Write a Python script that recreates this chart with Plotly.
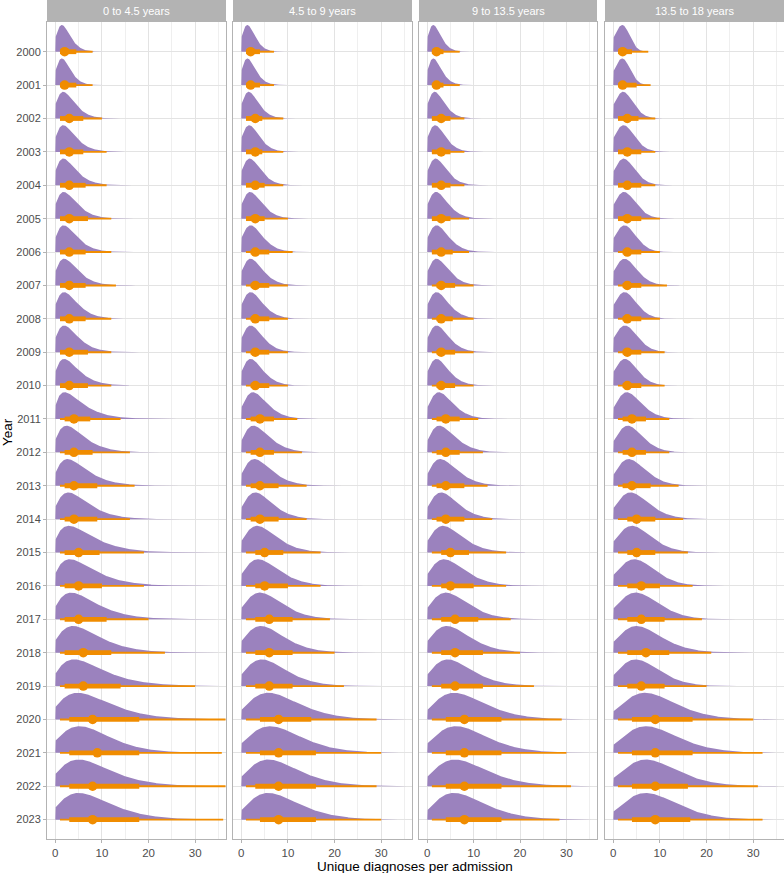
import numpy as np
import plotly.graph_objects as go

years = list(range(2000, 2024))
panels = ["0 to 4.5 years", "4.5 to 9 years", "9 to 13.5 years", "13.5 to 18 years"]

# ---- interval summaries (per panel, per year) ----
p1_median = [2, 2, 3, 3, 3, 3, 3, 3, 3, 3, 3, 4, 4, 4, 4, 5, 5, 5, 6, 6, 8, 9, 8, 8]
p1_lo66 = [1, 1, 1, 1, 1, 1, 1, 1, 1, 1, 1, 2, 2, 2, 2, 2, 2, 2, 2, 2, 3, 3, 3, 3]
p1_hi66 = [4.5, 4.5, 6, 6, 6.5, 7, 6.5, 6.5, 6.5, 7, 7, 7.5, 8, 9, 9, 9.5, 10, 11, 12, 14, 18, 18, 18, 18]
p1_lo95 = [1] * 24
p1_hi95 = [8, 8, 10, 11, 11, 12, 12, 13, 12, 12, 12, 14, 16, 17, 16, 19, 19, 20, 23.5, 30, 36.5, 35.7, 36.5, 36]
p1_mode = [1.4, 1.4, 1.7, 1.7, 1.7, 1.8, 1.8, 1.9, 1.9, 1.9, 1.9, 2.0, 2.4, 2.6, 2.8, 2.9, 3.1, 3.4, 3.8, 4.0, 4.8, 5.2, 5.0, 5.0]
p1_f0 = [0.5] * 11 + [0.45] * 13
p1_half = [3.5, 3.5, 4.5, 4.7, 4.8, 5.0, 5.0, 5.2, 5.2, 5.3, 5.5, 6.5, 6.8, 7.5, 7.8, 9.0, 9.3, 9.8, 10.5, 11.5, 13.0, 12.8, 13.0, 13.0]

p2_median = [2, 2, 3, 3, 3, 3, 3, 3, 3, 3, 3, 4, 4, 4, 4, 5, 5, 6, 6, 6, 8, 8, 8, 8]
p2_lo66 = [1, 1, 1, 1, 1, 1, 2, 2, 2, 2, 2, 2, 2, 2, 2, 3, 3, 3, 3, 3, 4, 4, 3, 4]
p2_hi66 = [4, 4, 4.5, 4.5, 5, 5, 6, 6, 6, 6, 6, 7, 7, 8, 8, 9, 10, 11, 11, 11, 15, 16, 16, 16]
p2_lo95 = [1] * 24
p2_hi95 = [7, 7, 9, 9, 9, 10, 11, 10, 10, 10, 10, 12, 13, 14, 14, 17, 17, 19, 20, 22, 29, 30, 29, 30]
p2_mode = [1.3, 1.3, 1.6, 1.7, 1.8, 1.9, 2.0, 2.0, 2.0, 2.0, 2.0, 2.5, 2.6, 2.8, 3.0, 3.4, 3.6, 4.0, 4.2, 4.4, 5.8, 6.2, 5.8, 5.8]
p2_f0 = [0.5] * 11 + [0.42] * 9 + [0.35] * 4
p2_half = [3.2, 3.3, 4.0, 4.2, 4.5, 4.8, 5.0, 5.0, 5.0, 5.0, 5.0, 6.0, 6.5, 7.0, 7.2, 8.2, 8.8, 9.5, 10.0, 10.5, 13.5, 14.0, 13.5, 13.5]

p3_median = [2, 2, 3, 3, 3, 3, 3, 3, 3, 3, 3, 4, 4, 4, 4, 5, 5, 6, 6, 6, 8, 8, 8, 8]
p3_lo66 = [1, 1, 1, 1, 1, 1, 1, 2, 2, 2, 2, 2, 2, 2, 2, 3, 3, 3, 3, 3, 4, 4, 4, 4]
p3_hi66 = [3.5, 3.5, 5, 5, 5, 5, 5.5, 6, 5.5, 6, 6, 7, 7, 8, 8, 9, 10, 11, 12, 12, 16, 16, 16, 16]
p3_lo95 = [1] * 24
p3_hi95 = [7, 7, 8, 8, 8, 9, 9, 10, 10, 10, 10, 11, 12, 13, 14, 17, 17, 18, 20, 23, 29, 30, 31, 28.5]
p3_mode = [1.3, 1.3, 1.6, 1.7, 1.8, 1.9, 2.0, 2.0, 2.0, 2.0, 2.0, 2.5, 2.6, 2.8, 3.0, 3.4, 3.6, 4.0, 4.2, 4.4, 5.8, 6.2, 6.0, 5.8]
p3_f0 = [0.5] * 11 + [0.42] * 9 + [0.35] * 4
p3_half = [3.2, 3.3, 4.0, 4.2, 4.5, 4.8, 5.0, 5.0, 5.0, 5.0, 5.0, 6.0, 6.5, 7.0, 7.2, 8.2, 8.8, 9.5, 10.0, 10.5, 13.5, 14.0, 14.0, 13.5]

p4_median = [2, 2, 3, 3, 3, 3, 3, 3, 3, 3, 3, 4, 4, 4, 5, 5, 6, 6, 7, 6, 9, 9, 9, 9]
p4_lo66 = [1, 1, 1, 1, 1, 1, 2, 2, 2, 2, 2, 2, 2, 2, 3, 3, 3, 3, 3, 3, 4, 4, 4, 4]
p4_hi66 = [4, 5, 5.4, 6, 6, 6, 6, 6, 6, 6, 6, 7, 7, 8, 9, 9, 10, 11, 12, 11, 17, 17, 16, 16.5]
p4_lo95 = [1] * 24
p4_hi95 = [7.5, 8, 9, 9, 9, 10, 10, 11.5, 10, 11, 11, 12, 12, 14, 15, 16, 17, 19, 21, 20, 30, 32, 31, 32]
p4_mode = [1.9, 1.9, 2.1, 2.2, 2.2, 2.3, 2.4, 2.4, 2.4, 2.5, 2.5, 2.9, 3.1, 3.3, 3.7, 4.0, 4.5, 4.8, 5.0, 4.8, 6.8, 7.0, 7.0, 7.0]
p4_f0 = [0.5] * 11 + [0.4] * 9 + [0.3] * 4
p4_half = [3.6, 3.9, 4.6, 4.9, 5.0, 5.2, 5.3, 5.5, 5.4, 5.6, 5.6, 6.5, 6.8, 7.5, 8.3, 8.8, 9.6, 10.5, 11.2, 10.6, 14.5, 15.0, 14.8, 14.8]

x_ticks = [0, 10, 20, 30]

panel_data = [
    (p1_median, p1_lo66, p1_hi66, p1_lo95, p1_hi95, p1_mode, p1_f0, p1_half),
    (p2_median, p2_lo66, p2_hi66, p2_lo95, p2_hi95, p2_mode, p2_f0, p2_half),
    (p3_median, p3_lo66, p3_hi66, p3_lo95, p3_hi95, p3_mode, p3_f0, p3_half),
    (p4_median, p4_lo66, p4_hi66, p4_lo95, p4_hi95, p4_mode, p4_f0, p4_half),
]

PURPLE = "#9B82BE"
ORANGE = "#F08C00"
GRID = "#E3E3E3"
BORDER = "#B3B3B3"
FONT = "Liberation Sans, Arial, sans-serif"
SLAB_H = 0.8


def slab_shape(m, f0, xh):
    """Skewed kernel with peak 1 at mode m, value f0 at 0 and half height at xh."""
    def curve(x, s):
        u0 = s / (m + s)
        a = np.log(f0) / (np.log(u0) + 1 - u0)
        u = (x + s) / (m + s)
        return np.exp(a * (np.log(u) + 1 - u))

    lo, hi = np.log(1e-3), np.log(1e4)
    for _ in range(80):
        mid = 0.5 * (lo + hi)
        if curve(xh, np.exp(mid)) > 0.5:
            lo = mid
        else:
            hi = mid
    s = np.exp(0.5 * (lo + hi))
    xs = np.linspace(0, 35.5, 400)
    ys = curve(xs, s)
    keep = (xs <= m) | (ys > 0.0015)
    return xs[keep], ys[keep]


# panel geometry (pixels)
W, H = 784, 873
L, R, T, B = 47, 0, 22, 34
pw = W - L - R
panel_px = [(47, 226), (233, 412), (419, 597), (605, 784)]
domains = [((a - L) / pw, (b - L) / pw) for a, b in panel_px]

fig = go.Figure()

for pi, (med, lo66, hi66, lo95, hi95, mode, f0, half) in enumerate(panel_data):
    xa = "x" if pi == 0 else f"x{pi + 1}"
    ya = "y" if pi == 0 else f"y{pi + 1}"
    # slabs
    for yi, yr in enumerate(years):
        xs, ys = slab_shape(mode[yi], f0[yi], half[yi])
        px = np.concatenate([[0], xs, [xs[-1]], [0]])
        py = np.concatenate([[yr], yr - SLAB_H * ys, [yr], [yr]])
        fig.add_trace(go.Scatter(x=px, y=py, mode="lines", fill="toself",
                                 fillcolor=PURPLE, line=dict(width=0, color=PURPLE),
                                 xaxis=xa, yaxis=ya, hoverinfo="skip", showlegend=False))
    # thin 95% intervals
    tx, ty = [], []
    for yi, yr in enumerate(years):
        tx += [lo95[yi], hi95[yi], None]
        ty += [yr, yr, None]
    fig.add_trace(go.Scatter(x=tx, y=ty, mode="lines", line=dict(color=ORANGE, width=1.9),
                             xaxis=xa, yaxis=ya, hoverinfo="skip", showlegend=False))
    # thick 66% intervals
    kx, ky = [], []
    for yi, yr in enumerate(years):
        kx += [lo66[yi], hi66[yi], None]
        ky += [yr, yr, None]
    fig.add_trace(go.Scatter(x=kx, y=ky, mode="lines", line=dict(color=ORANGE, width=4.8),
                             xaxis=xa, yaxis=ya, hoverinfo="skip", showlegend=False))
    # medians
    fig.add_trace(go.Scatter(x=med, y=years, mode="markers",
                             marker=dict(color=ORANGE, size=9.5, line=dict(width=0)),
                             xaxis=xa, yaxis=ya, hoverinfo="skip", showlegend=False))

yrange = [2023 + 0.58, 2000 - 0.89]
layout = dict(
    width=W, height=H,
    margin=dict(l=L, r=R, t=T, b=B),
    paper_bgcolor="white", plot_bgcolor="white",
    font=dict(family=FONT, color="#4D4D4D", size=11),
    showlegend=False,
)
shapes = []
annotations = []
strip_h = T / (H - T - B)
for pi in range(4):
    sfx = "" if pi == 0 else str(pi + 1)
    layout["xaxis" + sfx] = dict(
        domain=list(domains[pi]), anchor="y" + sfx, range=[-1.78, 36.6],
        tickvals=x_ticks, ticks="outside", ticklen=3, tickcolor=BORDER,
        showgrid=True, gridcolor=GRID, gridwidth=1, zeroline=False,
        minor=dict(tickvals=[5, 15, 25, 35], showgrid=True, gridcolor="#EFEFEF", gridwidth=0.6),
        showline=True, mirror=True, linecolor=BORDER, linewidth=1,
        tickfont=dict(size=11.5, color="#4D4D4D"),
    )
    layout["yaxis" + sfx] = dict(
        domain=[0, 1], anchor="x" + sfx, range=yrange,
        tickvals=years, ticktext=[str(y) for y in years],
        showticklabels=(pi == 0), ticks="outside" if pi == 0 else "", ticklen=3, tickcolor=BORDER,
        showgrid=True, gridcolor=GRID, gridwidth=1, zeroline=False,
        showline=True, mirror=True, linecolor=BORDER, linewidth=1,
        tickfont=dict(size=11, color="#4D4D4D"),
    )
    if pi > 0:
        layout["yaxis" + sfx]["matches"] = "y"
    shapes.append(dict(type="rect", xref="paper", yref="paper",
                       x0=domains[pi][0], x1=domains[pi][1], y0=1, y1=1 + strip_h,
                       fillcolor=BORDER, line=dict(width=0), layer="above"))
    annotations.append(dict(text=panels[pi], xref="paper", yref="paper",
                            x=(domains[pi][0] + domains[pi][1]) / 2, y=1 + strip_h / 2,
                            showarrow=False, font=dict(color="white", size=11, family=FONT),
                            xanchor="center", yanchor="middle"))

annotations.append(dict(text="Unique diagnoses per admission", xref="paper", yref="paper",
                        x=(415 - L) / pw, y=-(866 - (H - B)) / (H - T - B), showarrow=False,
                        font=dict(color="black", size=13.5, family=FONT),
                        xanchor="center", yanchor="middle"))
annotations.append(dict(text="Year", xref="paper", yref="paper",
                        x=-(L - 7) / pw, y=(H - B - 432) / (H - T - B), showarrow=False,
                        textangle=-90, font=dict(color="black", size=13.5, family=FONT),
                        xanchor="center", yanchor="middle"))
layout["shapes"] = shapes
layout["annotations"] = annotations
fig.update_layout(**layout)

fig.write_html("out.html")
